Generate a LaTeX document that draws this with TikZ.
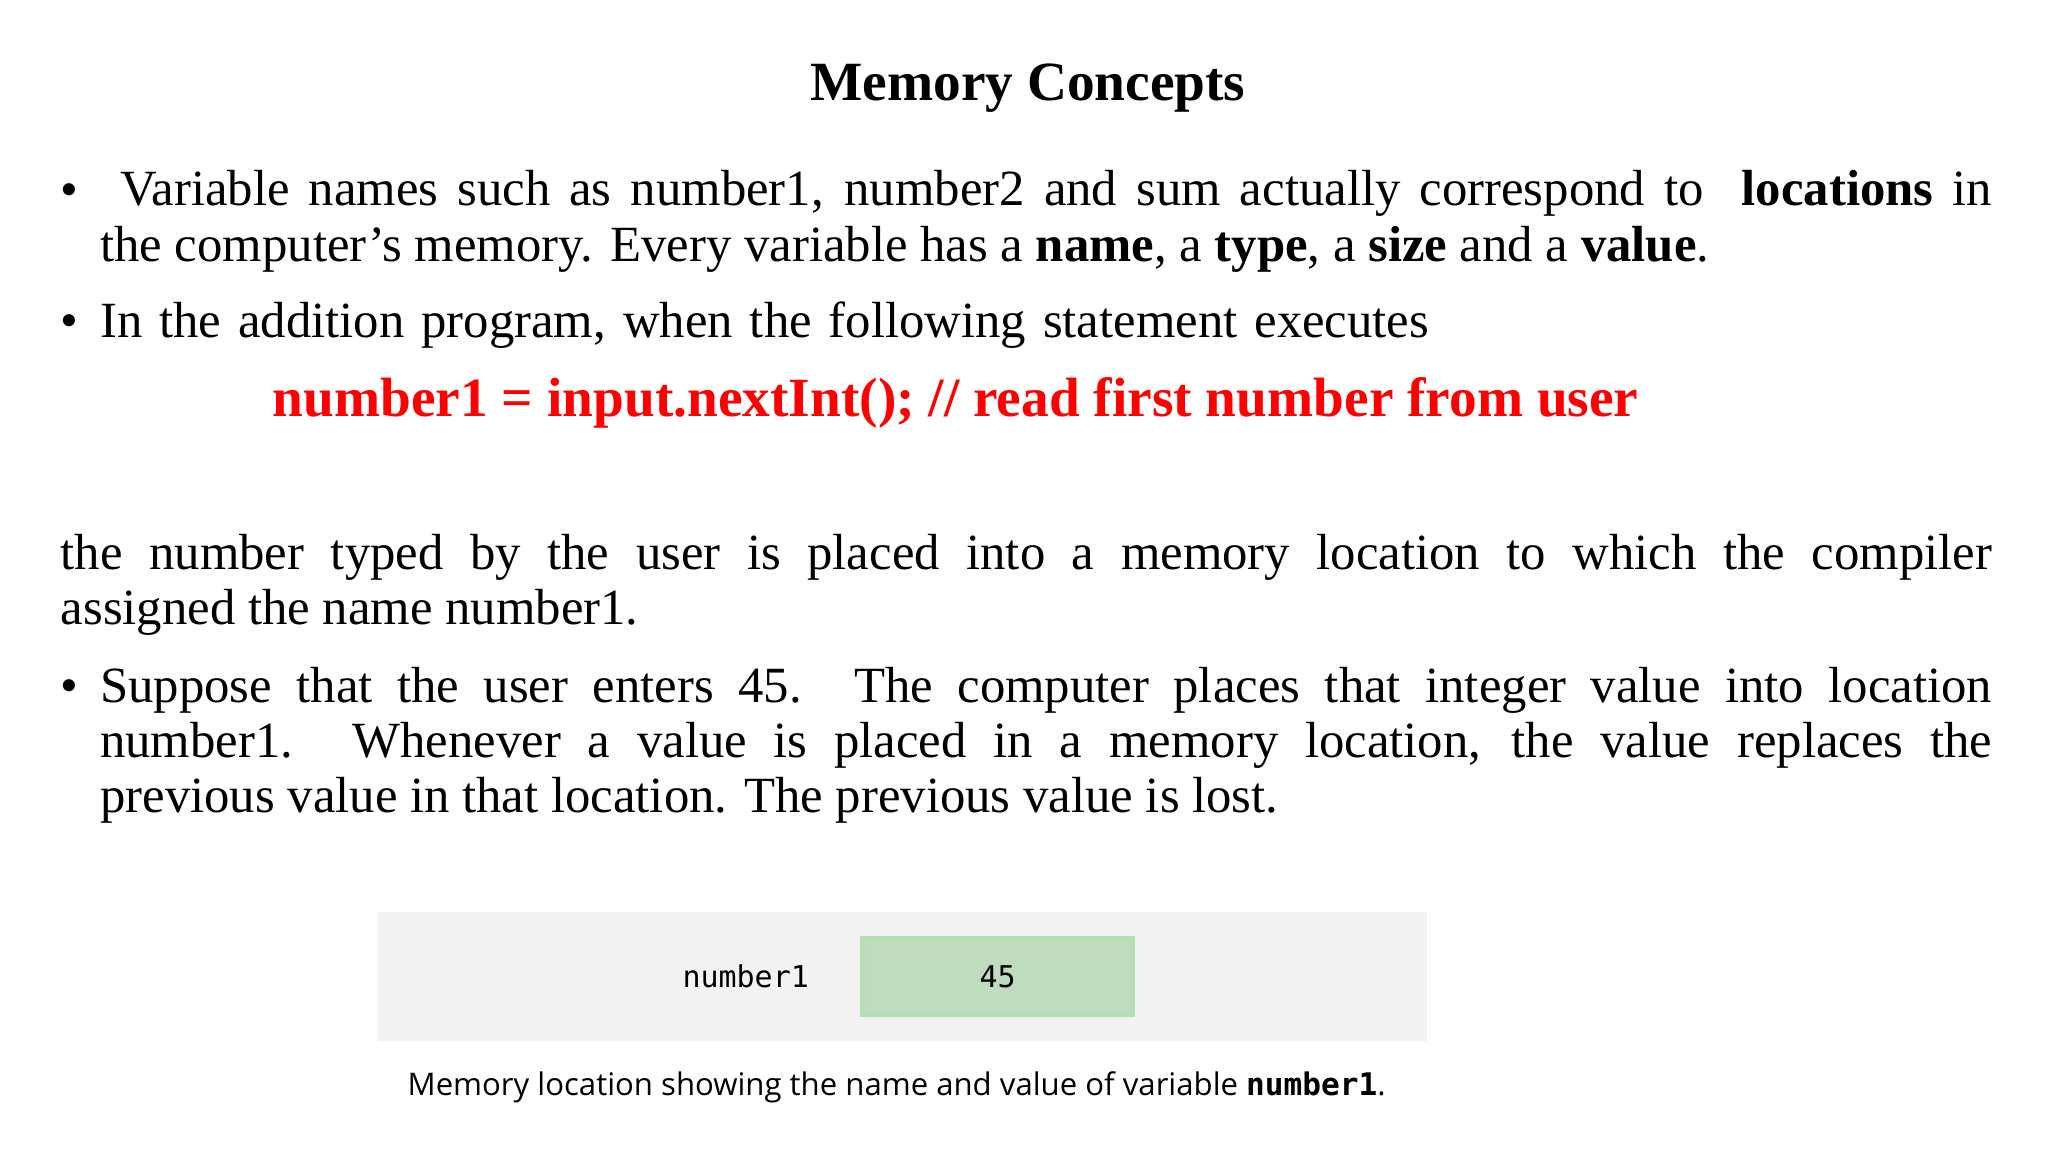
\documentclass[tikz,border=0pt]{standalone}
\usepackage{fontspec}
\setmainfont{Liberation Serif}
\setsansfont{Open Sans}
\setmonofont{DejaVu Sans Mono}
\begin{document}
\begin{tikzpicture}[x=0.02cm,y=-0.02cm,
  body/.style={anchor=north west,inner sep=0pt,font=\fontsize{22}{24}\selectfont,align=justify},
  bul/.style={anchor=base,inner sep=0pt,font=\fontsize{22}{24}\selectfont}]
\useasboundingbox (0,0) rectangle (1560,877.5);
\node[inner sep=0pt,font=\fontsize{24}{28}\selectfont\bfseries] (title) at (783,67) {Memory Concepts};
\node[bul] (b1) at (53,157) {•};
\node[body,text width=1441*0.02cm] (p1) at (76,127) {\strut\hspace{0.4em}Variable names such as number1, number2 and sum actually correspond to \ \textbf{locations} in\linebreak the computer’s memory. Every variable has a \textbf{name}, a \textbf{type}, a \textbf{size} and a \textbf{value}.};
\node[bul] (b2) at (53,257) {•};
\node[body,text width=1441*0.02cm,align=left] (p2) at (76,227) {\strut In the addition program, when the following statement executes};
\node[inner sep=0pt,text=red,font=\fontsize{24}{28}\selectfont\bfseries] (code) at (728,307) {number1 = input.nextInt(); // read first number from user};
\node[body,text width=1471*0.02cm] (p3) at (46,404) {\strut the number typed by the user is placed into a memory location to which the compiler\linebreak assigned the name number1.};
\node[bul] (b3) at (53,535) {•};
\node[body,text width=1441*0.02cm] (p4) at (76,505) {\strut Suppose that the user enters 45. The computer places that integer value into location\linebreak number1. Whenever a value is placed in a memory location, the value replaces the\linebreak previous value in that location. The previous value is lost.};
\fill[gray!10] (288,695) rectangle (1087,793);
\node[draw=green!60!black!30,fill=green!45!black!25!white,line width=2pt,minimum width=206*0.02cm,minimum height=58*0.02cm,font=\ttfamily\fontsize{13}{15}\selectfont] (val) at (760,744) {45};
\node[font=\ttfamily\fontsize{13}{15}\selectfont] (name) at (568,744) {number1};
\node[font=\sffamily\fontsize{13.5}{16}\selectfont] (cap) at (683,828) {Memory location showing the name and value of variable \textbf{\ttfamily number1}.};
\end{tikzpicture}
\end{document}
